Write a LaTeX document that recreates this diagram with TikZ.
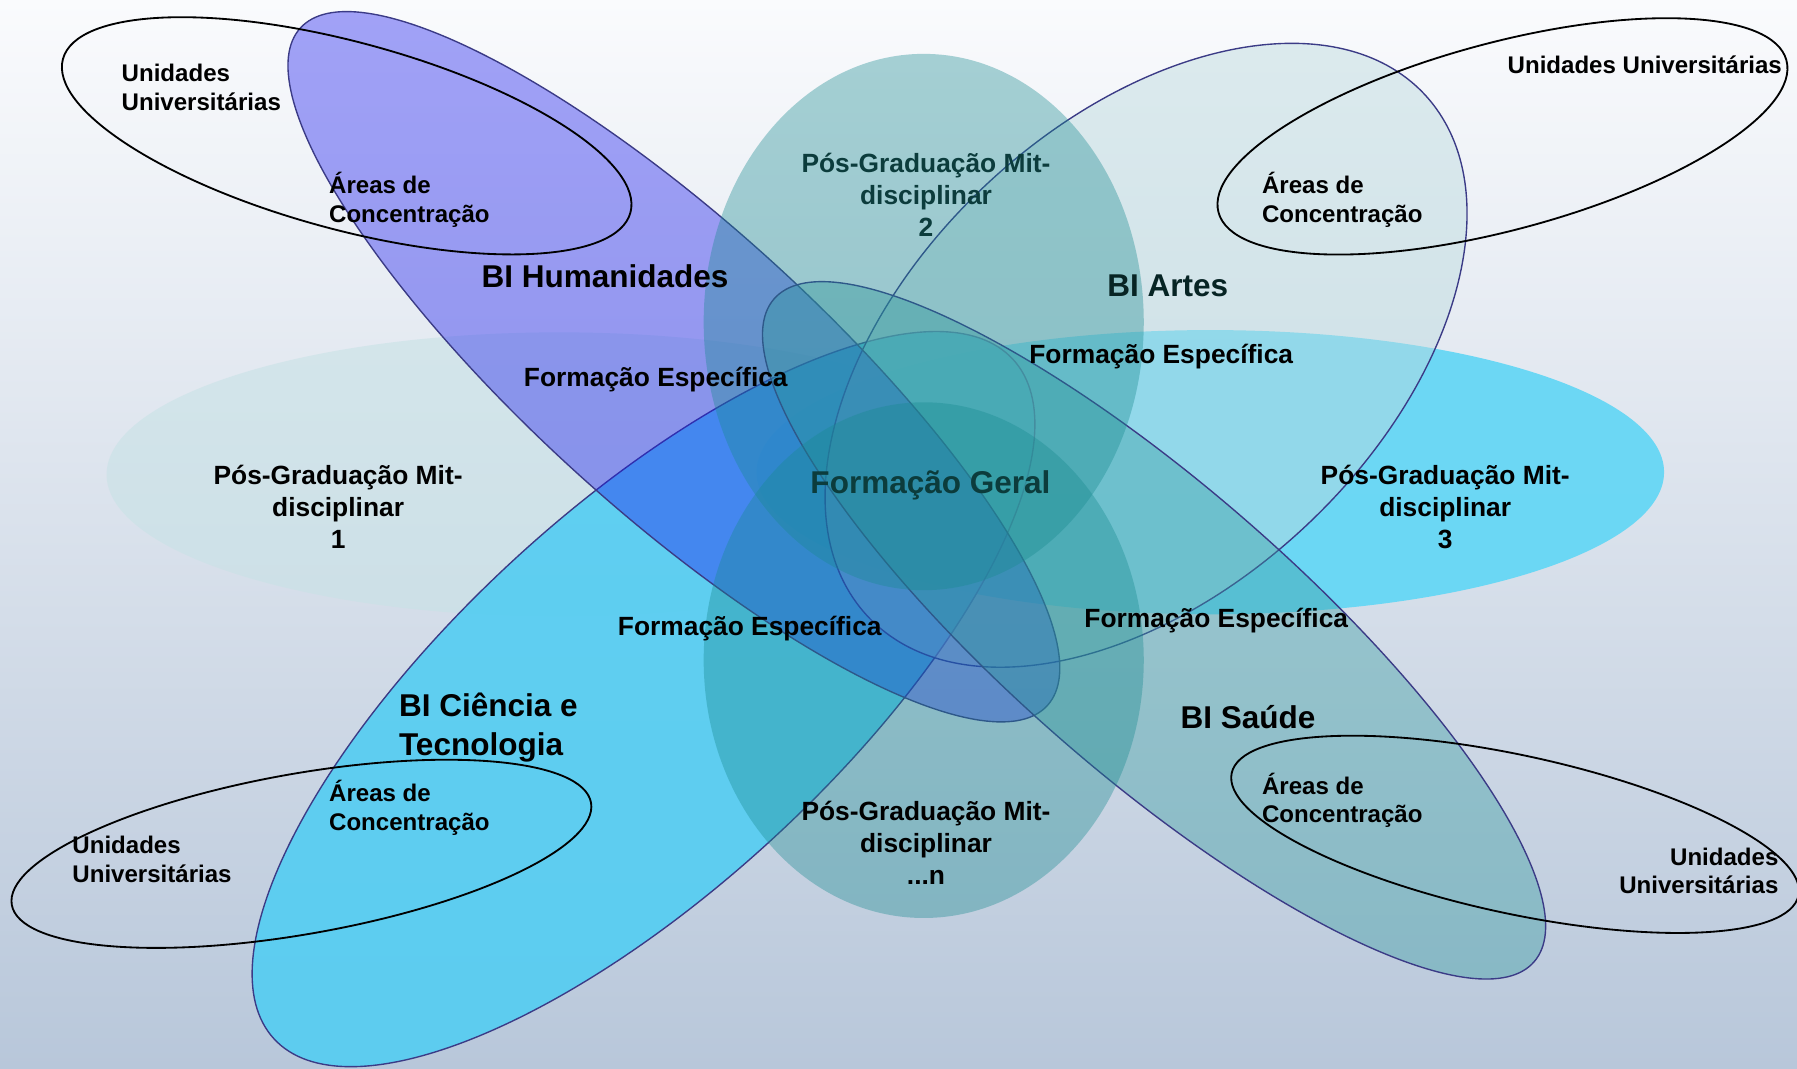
\documentclass[tikz,border=0pt]{standalone}
\usepackage{fontspec}
\setmainfont{Liberation Sans}
\definecolor{bgtop}{HTML}{FAFBFD}
\definecolor{bgmid}{HTML}{DFE5ED}
\definecolor{bgbot}{HTML}{B8C7DA}
\definecolor{pgonec}{HTML}{C8E2E6}
\definecolor{pgthreec}{HTML}{66D7F5}
\definecolor{cienc}{HTML}{53CDF2}
\definecolor{artesc}{HTML}{BDDBDF}
\definecolor{humc}{HTML}{1D1DEE}
\definecolor{saudec}{HTML}{399DA2}
\definecolor{pgtwoc}{HTML}{188A90}
\definecolor{edgec}{HTML}{3B3B86}
\definecolor{tealtext}{HTML}{0C3C3C}
\newcommand\tabL[1]{\begin{tabular}[t]{@{}l@{}}#1\end{tabular}}
\newcommand\tabC[1]{\begin{tabular}[t]{@{}c@{}}#1\end{tabular}}
\newcommand\tabR[1]{\begin{tabular}[t]{@{}r@{}}#1\end{tabular}}
\begin{document}
\begin{tikzpicture}[x=1pt,y=-1pt,
  pgone/.style={fill=pgonec, fill opacity=0.6},
  pgthree/.style={fill=pgthreec, fill opacity=0.95},
  pgtwo/.style={fill=pgtwoc, fill opacity=0.37},
  biedge/.style={draw=edgec, line width=1.2pt, draw opacity=1},
  bicien/.style={biedge, fill=cienc, fill opacity=0.9},
  biartes/.style={biedge, fill=artesc, fill opacity=0.47},
  bihum/.style={biedge, fill=humc, fill opacity=0.40},
  bisaude/.style={biedge, fill=saudec, fill opacity=0.4},
  unid/.style={draw=black, line width=1.6pt},
  txt/.style={inner sep=0pt, text=black},
  small/.style={txt, font=\fontsize{21}{25}\selectfont\bfseries},
  smallb/.style={txt, font=\fontsize{21}{26}\selectfont\bfseries},
  mid/.style={txt, font=\fontsize{23}{28}\selectfont\bfseries},
  big/.style={txt, font=\fontsize{27.5}{34}\selectfont\bfseries}
]
\useasboundingbox (0,0) rectangle (1568,932);
\shade[top color=bgtop, middle color=bgmid, bottom color=bgbot] (0,0) rectangle (1568,932);

% Pos-Graduacao 1 and 3 (horizontal)
\fill[pgone] (488,414) ellipse (395 and 124);
\fill[pgthree] (1056,412) ellipse (396 and 124);

% BI ellipses
\path[bicien, rotate around={42.6:(561.5,610)}] (561.5,610) ellipse (438 and 166);
\path[biartes, rotate around={43.2:(1000,310)}] (1000,310) ellipse (333 and 204);
\path[bihum, rotate around={-42.2:(588,320)}] (588,320) ellipse (440 and 125.5);
\path[bisaude, rotate around={-41.1:(1007,550)}] (1007,550) ellipse (440 and 125);

% Pos-Graduacao 2 and n (vertical)
\fill[pgtwo] (806,281) ellipse (192 and 234);
\fill[pgtwo] (806,576) ellipse (192 and 225);

% Unidades Universitarias outlines
\draw[unid, rotate around={-15.15:(302.5,118.5)}] (302.5,118.5) ellipse (256.5 and 81.7);
\draw[unid, rotate around={15:(1311,119)}] (1311,119) ellipse (256.5 and 81.7);
\draw[unid, rotate around={10:(263,745)}] (263,745) ellipse (256.6 and 70);
\draw[unid, rotate around={-12.2:(1322,728)}] (1322,728) ellipse (253 and 69);

% Texts
\node[small, anchor=base west] (uutl) at (106,71) {\tabL{Unidades\\Universitárias}};
\node[small, anchor=base west] (actl) at (287,169) {\tabL{Áreas de\\Concentração}};
\node[big, anchor=base west] (bihum) at (420,251) {BI Humanidades};
\node[mid, anchor=base, text=tealtext] (pg2) at (808,150.6) {\tabC{Pós-Graduação Mit-\\disciplinar\\2}};
\node[small, anchor=base east] (uutr) at (1555,64) {Unidades Universitárias};
\node[small, anchor=base west] (actr) at (1101,169) {\tabL{Áreas de\\Concentração}};
\node[big, anchor=base west, text=tealtext!60!black] (biartes) at (966,259) {BI Artes};
\node[mid, anchor=base west] (fetr) at (898,317.6) {Formação Específica};
\node[mid, anchor=base west] (fetl) at (457,337.6) {Formação Específica};
\node[mid, anchor=base] (pg1) at (295,422.6) {\tabC{Pós-Graduação Mit-\\disciplinar\\1}};
\node[big, anchor=base west, text=tealtext] (fg) at (707,431) {Formação Geral};
\node[mid, anchor=base] (pg3) at (1261,422.6) {\tabC{Pós-Graduação Mit-\\disciplinar\\3}};
\node[mid, anchor=base west] (fell) at (539,554.6) {Formação Específica};
\node[mid, anchor=base west] (felr) at (946,547.6) {Formação Específica};
\node[big, anchor=base west] (bicien) at (348,625) {\tabL{BI Ciência e\\Tecnologia}};
\node[big, anchor=base west] (bisaude) at (1030,636) {BI Saúde};
\node[smallb, anchor=base west] (acbl) at (287,699) {\tabL{Áreas de\\Concentração}};
\node[small, anchor=base west] (uubl) at (63,745) {\tabL{Unidades\\Universitárias}};
\node[mid, anchor=base] (pgn) at (808,715.6) {\tabC{Pós-Graduação Mit-\\disciplinar\\...n}};
\node[small, anchor=base west] (acbr) at (1101,693) {\tabL{Áreas de\\Concentração}};
\node[small, anchor=base east] (uubr) at (1552,755) {\tabR{Unidades\\Universitárias}};
\end{tikzpicture}
\end{document}
